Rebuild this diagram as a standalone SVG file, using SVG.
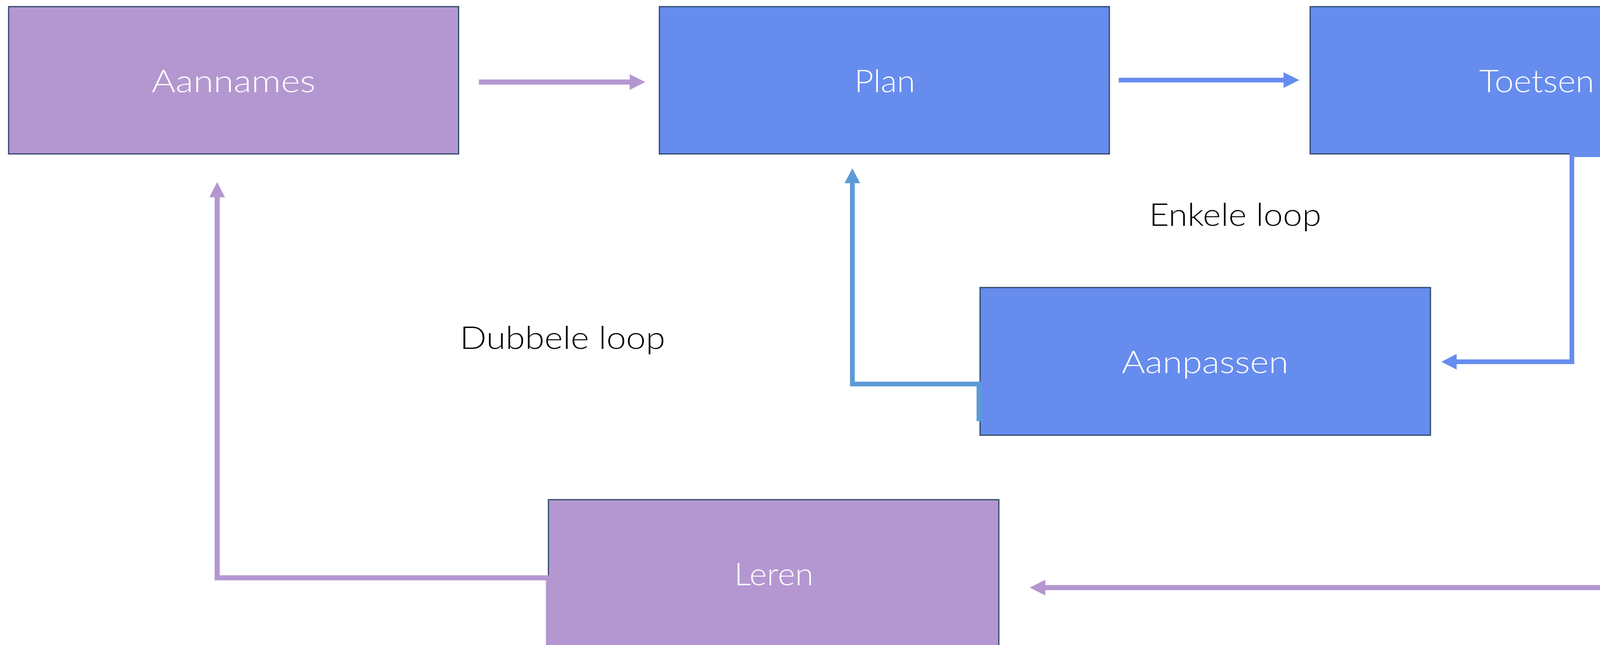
<svg xmlns="http://www.w3.org/2000/svg" width="4517" height="1651" viewBox="0 0 4517 1651">
  <style>
    .box { stroke: #2C4766; stroke-width: 3; }
    .purple { fill: #B497D0; }
    .blue { fill: #668CEE; }
    .lbl { font-family: 'Century Gothic', 'URW Gothic', 'Lato', 'Open Sans', sans-serif; font-size: 81px; font-weight: 300; text-anchor: middle; }
    .white { fill: #FFFFFF; }
    .black { fill: #000000; }
    .cp { fill: none; stroke: #B497D0; stroke-width: 13; stroke-linejoin: miter; stroke-linecap: butt; }
    .cb { fill: none; stroke: #668CEE; stroke-width: 12; stroke-linejoin: miter; stroke-linecap: butt; }
    .cs { fill: none; stroke: #5B9BD5; stroke-width: 12; stroke-linejoin: miter; stroke-linecap: butt; }
    .hp { fill: #B497D0; }
    .hb { fill: #668CEE; }
    .hs { fill: #5B9BD5; }
  </style>
  <rect x="0" y="0" width="4517" height="1651" fill="#FFFFFF"/>

  <g id="node-aannames">
    <rect class="box purple" x="22" y="17" width="1152" height="377"/>
    <text class="lbl white" x="598" y="236" textLength="420" lengthAdjust="spacingAndGlyphs">Aannames</text>
  </g>
  <g id="node-plan">
    <rect class="box blue" x="1688" y="17" width="1152" height="377"/>
    <text class="lbl white" x="2265" y="236" textLength="156" lengthAdjust="spacingAndGlyphs">Plan</text>
  </g>
  <g id="node-toetsen">
    <rect class="box blue" x="3354" y="17" width="1154" height="377"/>
    <text class="lbl white" x="3934" y="236" textLength="295" lengthAdjust="spacingAndGlyphs">Toetsen</text>
  </g>
  <g id="node-aanpassen">
    <rect class="box blue" x="2509" y="736" width="1153" height="378"/>
    <text class="lbl white" x="3085" y="955" textLength="427" lengthAdjust="spacingAndGlyphs">Aanpassen</text>
  </g>
  <g id="node-leren">
    <rect class="box purple" x="1404" y="1279" width="1153" height="400"/>
    <text class="lbl white" x="1981" y="1498" textLength="203" lengthAdjust="spacingAndGlyphs">Leren</text>
  </g>
  <g id="label-enkele-loop">
    <text class="lbl black" x="3162" y="578" textLength="441" lengthAdjust="spacingAndGlyphs">Enkele loop</text>
  </g>
  <g id="label-dubbele-loop">
    <text class="lbl black" x="1440" y="893" textLength="526" lengthAdjust="spacingAndGlyphs">Dubbele loop</text>
  </g>

  <g id="connectors">
    <!-- Aannames -> Plan -->
    <path class="cp" d="M1226 210 H1613"/>
    <polygon class="hp" points="1612,190 1652,210 1612,230"/>
    <!-- Plan -> Toetsen -->
    <path class="cb" d="M2864 205 H3287"/>
    <polygon class="hb" points="3286,185 3326,205 3286,225"/>
    <!-- Toetsen -> Aanpassen -->
    <path class="cb" d="M4233 396 H4024 V926 H3728"/>
    <polygon class="hb" points="3729,906 3690,926 3729,946"/>
    <!-- Toetsen -> Leren -->
    <path class="cp" d="M4510 394 H4233 V1504 H2675"/>
    <polygon class="hp" points="2676,1484 2636,1504 2676,1524"/>
    <!-- Aanpassen -> Plan -->
    <path class="cs" d="M2506 1078 V983 H2182 V468"/>
    <polygon class="hs" points="2162,469 2182,431 2202,469"/>
    <!-- Leren -> Aannames -->
    <path class="cp" d="M1404 1651 V1479 H556 V504"/>
    <polygon class="hp" points="536,505 556,466 576,505"/>
  </g>
</svg>
